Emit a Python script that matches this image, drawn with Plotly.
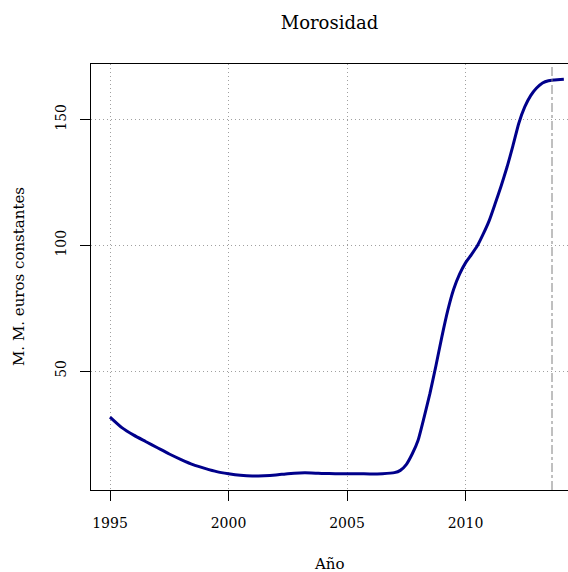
import plotly.graph_objects as go

# Data
years = [1995.0, 1995.5, 1996.0, 1996.5, 1997.0, 1997.5, 1998.0, 1998.5, 1999.0, 1999.5,
         2000.0, 2000.5, 2001.0, 2001.5, 2002.0, 2002.5, 2003.0, 2003.5, 2004.0, 2004.5,
         2005.0, 2005.5, 2006.0, 2006.5, 2007.0, 2007.25, 2007.5, 2007.75, 2008.0, 2008.25,
         2008.5, 2008.75, 2009.0, 2009.25, 2009.5, 2009.75, 2010.0, 2010.25, 2010.5, 2010.75,
         2011.0, 2011.25, 2011.5, 2011.75, 2012.0, 2012.25, 2012.5, 2012.75, 2013.0, 2013.25,
         2013.5, 2013.75, 2014.0, 2014.15]
morosidad = [31.7, 27.5, 24.5, 22.0, 19.5, 17.0, 14.8, 12.8, 11.3, 10.0,
             9.2, 8.6, 8.3, 8.4, 8.7, 9.2, 9.5, 9.5, 9.3, 9.2,
             9.2, 9.2, 9.1, 9.2, 9.6, 10.5, 12.8, 17.0, 22.5, 31.5,
             41.1, 52.0, 63.5, 74.0, 82.5, 88.5, 93.0, 96.3, 99.8, 104.5,
             109.8, 116.5, 123.5, 131.0, 139.5, 148.5, 155.0, 159.5, 162.5, 164.5,
             165.4, 165.7, 165.9, 166.0]
x_ticks = [1995, 2000, 2005, 2010]
y_ticks = [50, 100, 150]
cutoff_year = 2013.65

title_text = "Morosidad"
x_label = "Año"
y_label = "M. M. euros constantes"

FONT = "DejaVu Serif"
W, H = 568, 572
L, R, T, B = 91, 0, 64, 572 - 490

fig = go.Figure()
fig.add_trace(go.Scatter(x=years, y=morosidad, mode="lines",
                         line=dict(color="#00008B", width=3, shape="spline", smoothing=0.5),
                         showlegend=False, hoverinfo="skip"))

fig.add_shape(type="line", xref="x", yref="paper", x0=cutoff_year, x1=cutoff_year, y0=0, y1=1,
              line=dict(color="#808080", width=1, dash="dashdot"))

fig.update_layout(
    width=W, height=H,
    margin=dict(l=L, r=R, t=T, b=B),
    paper_bgcolor="white", plot_bgcolor="white",
    font=dict(family=FONT, color="black", size=14),
    title=dict(text=title_text, x=0.5, xref="paper", xanchor="center",
               y=1 - 23 / H, yref="container", yanchor="middle",
               font=dict(family=FONT, size=18, color="black")),
    showlegend=False,
)

grid_dash = "1px,3px"
fig.update_xaxes(range=[1994.198, 2014.325], tickvals=x_ticks, ticks="outside", ticklen=10,
                 tickcolor="black", tickwidth=1, showline=True, linecolor="black", linewidth=1,
                 mirror=True, showgrid=True, gridcolor="#a0a0a0", griddash=grid_dash, gridwidth=1,
                 zeroline=False, tickfont=dict(size=14), ticklabelstandoff=10)
fig.update_yaxes(range=[2.7, 172.07], tickvals=y_ticks, ticks="outside", ticklen=10,
                 tickcolor="black", tickwidth=1, showline=True, linecolor="black", linewidth=1,
                 mirror=False, showgrid=True, gridcolor="#a0a0a0", griddash=grid_dash, gridwidth=1,
                 zeroline=False, tickangle=-90, tickfont=dict(size=14), ticklabelstandoff=8)

fig.add_annotation(text=x_label, xref="paper", yref="paper", x=0.5, y=-(564 - 490) / 426,
                   xanchor="center", yanchor="middle", showarrow=False,
                   font=dict(family=FONT, size=15, color="black"))
fig.add_annotation(text=y_label, xref="paper", yref="paper", x=-(91 - 19) / 477, y=0.5,
                   xanchor="center", yanchor="middle", textangle=-90, showarrow=False,
                   font=dict(family=FONT, size=15, color="black"))

fig.write_html("out.html", config={"displayModeBar": False},
               post_script="document.body.style.margin='0';document.body.style.overflow='hidden';")
